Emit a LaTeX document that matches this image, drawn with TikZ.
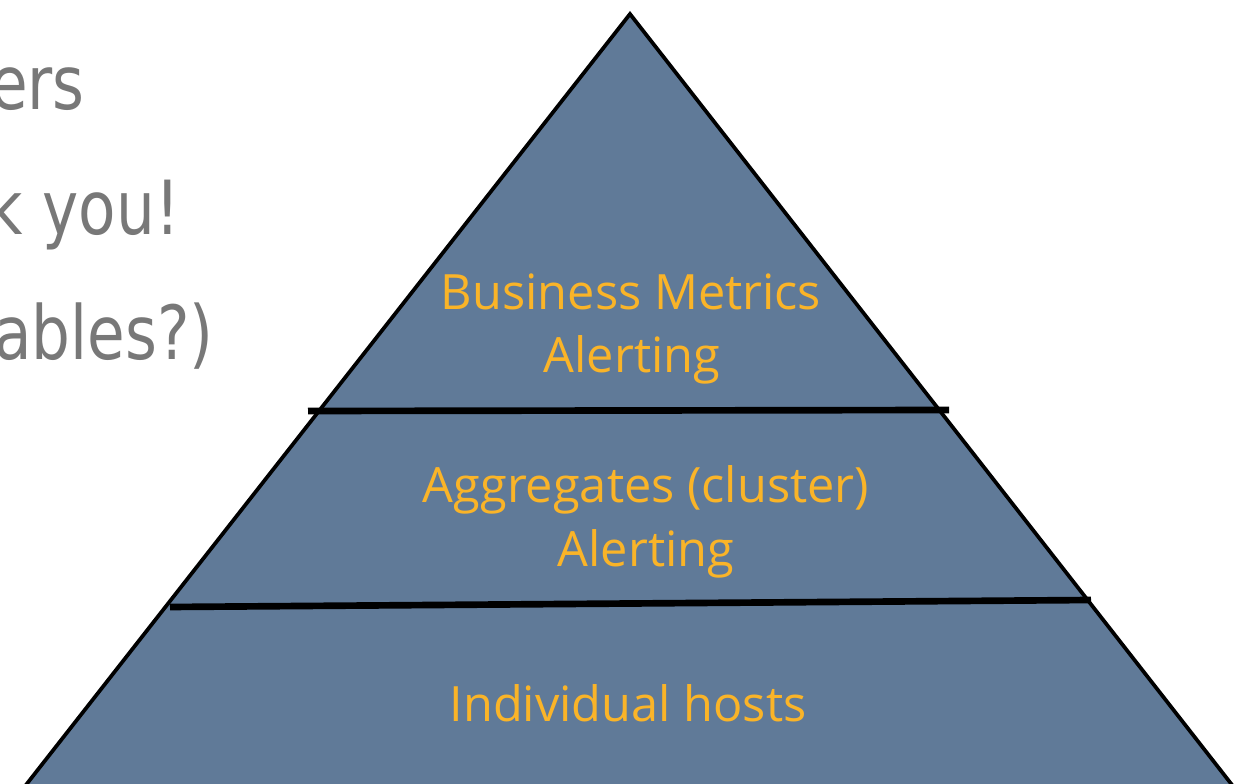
\documentclass[tikz,border=0pt]{standalone}
\usepackage{fontspec}
\setmainfont{Open Sans}
\newfontfamily\grayfont{DejaVu Sans}
\definecolor{pyrfill}{RGB}{96,122,152}
\definecolor{labelorange}{RGB}{250,180,40}
\definecolor{sidegray}{RGB}{120,120,120}
\begin{document}
\begin{tikzpicture}[x=0.75pt,y=-0.75pt,
  layertext/.style={inner sep=0pt,anchor=base,text=labelorange,font=\fontsize{36.5}{40}\selectfont},
  sidetext/.style={inner sep=0pt,anchor=base east,text=sidegray,font=\grayfont\fontsize{56}{60}\selectfont,xscale=0.82},
  divider/.style={line width=5pt,black},
  outline/.style={line width=2.8pt,black,line join=miter}]
\useasboundingbox (0,0) rectangle (1236,784);
\clip (0,0) rectangle (1236,784);
\coordinate (apex) at (630,14);
\coordinate (bl) at (22,790);
\coordinate (br) at (1236,790);
\fill[pyrfill] (apex) -- (bl) -- (br) -- cycle;
\draw[outline] (bl) -- (apex) -- (br);
\coordinate (d1l) at (308,411);
\coordinate (d1r) at (949,410);
\coordinate (d2l) at (170,607);
\coordinate (d2r) at (1091,600);
\draw[divider] (d1l) -- (d1r);
\draw[divider] (d2l) -- (d2r);
\node[layertext] (bm) at (631,310) {Business Metrics};
\node[layertext] (al1) at (632,373) {Alerting};
\node[layertext] (ag) at (646,502) {Aggregates (cluster)};
\node[layertext] (al2) at (646,566) {Alerting};
\node[layertext] (ih) at (628,721) {Individual hosts};
\node[sidetext] (s1) at (85,110) {ers};
\node[sidetext] (s2) at (180,235) {k you!};
\node[sidetext] (s3) at (214,360) {ables?)};
\end{tikzpicture}
\end{document}
